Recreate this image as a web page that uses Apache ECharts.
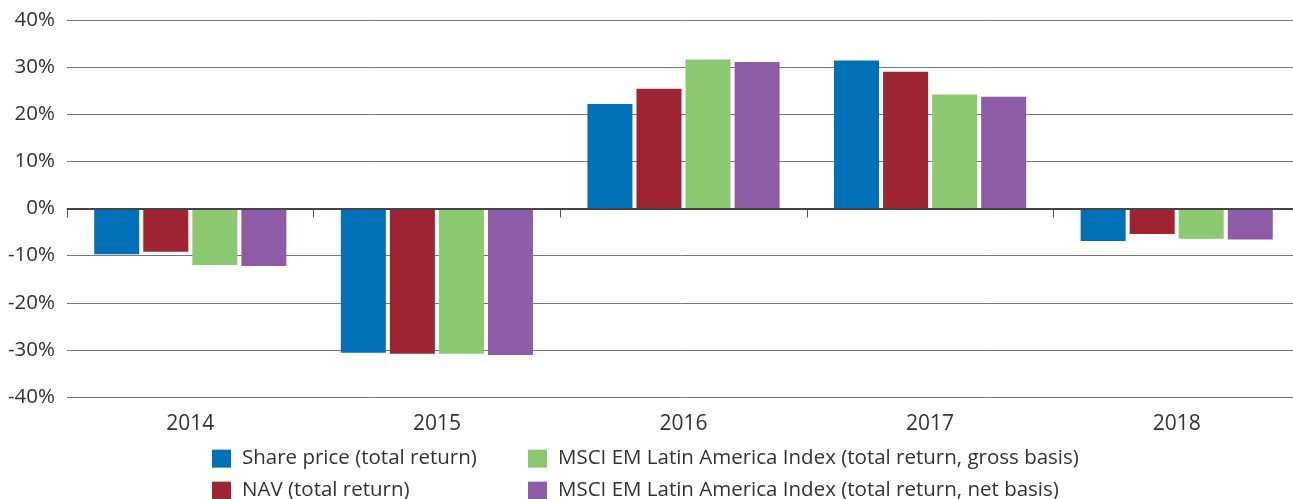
<!DOCTYPE html>
<html style="height: 100%">
    <head>
        <title>Returns by Year</title>
        <script type="text/javascript" src="https://fastly.jsdelivr.net/npm/echarts@6.0.0/dist/echarts.min.js"></script>
    </head>
    <body style="height: 100%; margin: 0; background: #fff">
        <div id="target" style="width: 1293px; height: 499px"></div>
<script>
// chart data
let years = ["2014", "2015", "2016", "2017", "2018"];
let sharePrice = [-9.7, -30.6, 22.2, 31.4, -6.9];
let nav = [-9.2, -30.8, 25.4, 29.0, -5.4];
let msciGross = [-12.0, -30.8, 31.6, 24.2, -6.4];
let msciNet = [-12.2, -31.1, 31.1, 23.7, -6.6];

let seriesNames = [
    "Share price (total return)",
    "NAV (total return)",
    "MSCI EM Latin America Index (total return, gross basis)",
    "MSCI EM Latin America Index (total return, net basis)",
];
let seriesData = [sharePrice, nav, msciGross, msciNet];
let colors = ["#0070b8", "#9e2432", "#8ac970", "#8e5ca7"];

let chart = echarts.init(document.getElementById('target'));

let font = "'Open Sans', Lato, sans-serif";

let series = seriesData.map((d, i) => {
    let s = {
        name: seriesNames[i],
        type: "bar",
        data: d,
        barWidth: 45,
        barGap: "9%",
        itemStyle: { color: colors[i] },
    };
    // zero line drawn over the bars
    if (i == 0)
    {
        s.markLine = {
            silent: true,
            symbol: "none",
            label: { show: false },
            lineStyle: { color: "#444", width: 2, type: "solid" },
            data: [{ yAxis: 0 }],
            z: 10,
        };
    }
    return s;
});

// one legend per entry, laid out in two columns of two rows
let MakeLegend = (left, top, name) => {
    return {
        left: left,
        top: top,
        padding: 0,
        itemWidth: 19,
        itemHeight: 18,
        icon: "rect",
        textStyle: { fontFamily: font, fontSize: 20.5, color: "#333", lineHeight: 18, padding: [0, 0, 0, 6] },
        selectedMode: false,
        data: [name],
    };
};

let option = {
    animation: false,
    color: colors,
    grid: {
        left: 67,
        width: 1233,
        top: 20,
        bottom: 102,
        outerBoundsMode: "none",
    },
    legend: [
        MakeLegend(212, 442, seriesNames[0]),
        MakeLegend(212, 474, seriesNames[1]),
        MakeLegend(528, 442, seriesNames[2]),
        MakeLegend(528, 474, seriesNames[3]),
    ],
    xAxis: {
        type: "category",
        data: years,
        axisLine: { lineStyle: { color: "#555", width: 1 } },
        axisTick: { show: true, length: 9, lineStyle: { color: "#555" } },
        axisLabel: { fontFamily: font, fontSize: 21, color: "#333", margin: 10 },
    },
    yAxis: {
        type: "value",
        min: -40,
        max: 40,
        interval: 10,
        axisLine: { show: false },
        axisTick: { show: false },
        axisLabel: {
            fontFamily: font,
            fontSize: 20.5,
            color: "#333",
            margin: 12,
            formatter: "{value}%",
        },
        splitLine: { lineStyle: { color: "#777", width: 1 } },
    },
    series: series,
};

chart.setOption(option);
</script>
    </body>
</html>
